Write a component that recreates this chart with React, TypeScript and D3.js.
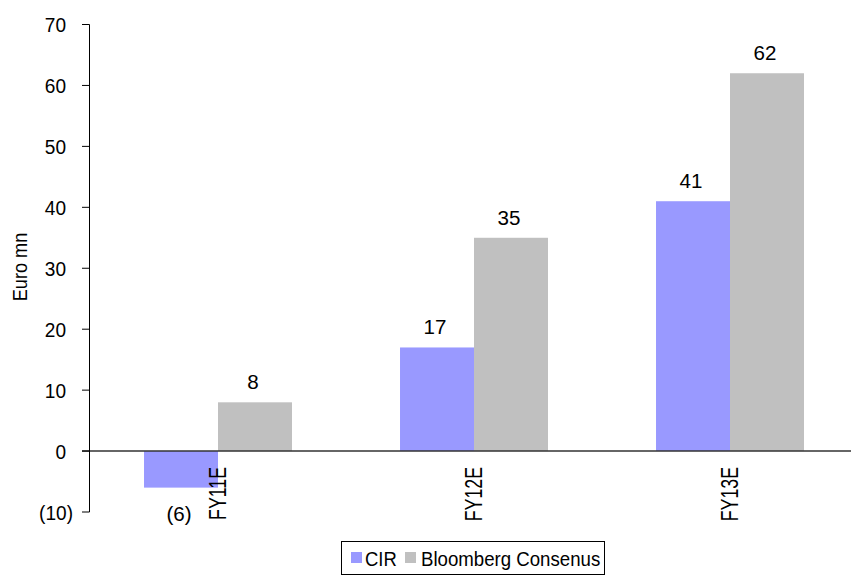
import React from 'react';
import * as d3 from 'd3';

// Net profit estimates (Euro mn)
const categories = ['FY11E', 'FY12E', 'FY13E'];
const seriesNames = ['CIR', 'Bloomberg Consenus'];
const cirValues = [-6, 17, 41];
const consensusValues = [8, 35, 62];
const yTickValues = [-10, 0, 10, 20, 30, 40, 50, 60, 70];
const seriesColors = ['#9999FF', '#C0C0C0'];

const W = 851;
const H = 575;
const FONT = 'Liberation Sans, Arial, sans-serif';

const fmt = (v: number) => (v < 0 ? `(${Math.abs(v)})` : `${v}`);

type TProps = {
  x: number;
  y: number;
  size: number;
  sx?: number;
  rot?: number;
  anchor?: 'start' | 'middle' | 'end';
  children: React.ReactNode;
};

// Text drawn through a horizontal squeeze to mimic a narrow face
const T = ({ x, y, size, sx = 0.9, rot = 0, anchor = 'start', children }: TProps) => (
  <g transform={`translate(${x},${y}) rotate(${rot}) scale(${sx},1)`}>
    <text x={0} y={0} fontSize={size} fontFamily={FONT} textAnchor={anchor} fill="#000">
      {children}
    </text>
  </g>
);

export default function App() {
  const left = 89.5;
  const right = 858;
  const y = d3.scaleLinear().domain([-10, 70]).range([512, 24.5]);
  const x0 = d3.scaleBand<string>().domain(categories).range([90, right]).padding(0);
  const bw = x0.bandwidth();
  const x1 = d3.scaleBand<string>().domain(seriesNames).range([bw * 0.211, bw * 0.789]).padding(0);

  const series = [cirValues, consensusValues];

  return (
    <svg
      width={W}
      height={H}
      style={{ position: 'absolute', left: 0, top: 0, background: '#fff' }}
    >
      <rect x={0} y={0} width={W} height={H} fill="#fff" />

      {/* bars */}
      {categories.map((c, i) =>
        seriesNames.map((s, j) => {
          const v = series[j][i];
          const bx = (x0(c) as number) + (x1(s) as number);
          const top = Math.min(y(v), y(0));
          const h = Math.abs(y(v) - y(0));
          return (
            <rect
              key={`${c}-${s}`}
              x={bx}
              y={top}
              width={x1.bandwidth()}
              height={h}
              fill={seriesColors[j]}
            />
          );
        })
      )}

      {/* value labels */}
      {categories.map((c, i) =>
        seriesNames.map((s, j) => {
          const v = series[j][i];
          const cx = (x0(c) as number) + (x1(s) as number) + x1.bandwidth() / 2 - 2;
          const ly = v >= 0 ? y(v) - 13 : y(v) + 33;
          return (
            <T key={`l-${c}-${s}`} x={cx} y={ly} size={21} sx={0.98} anchor="middle">
              {fmt(v)}
            </T>
          );
        })
      )}

      {/* zero line */}
      <line x1={82} x2={right} y1={y(0)} y2={y(0)} stroke="#333" strokeWidth={1.6} />

      {/* y axis */}
      <line x1={left} x2={left} y1={y(70)} y2={y(-10)} stroke="#000" strokeWidth={1} />
      {yTickValues.map((t) => (
        <g key={t}>
          <line x1={82} x2={left} y1={y(t)} y2={y(t)} stroke="#000" strokeWidth={1} />
          <T x={t < 0 ? 73 : 66} y={y(t) + 7.5} size={20.5} sx={0.93} anchor="end">
            {fmt(t)}
          </T>
        </g>
      ))}

      {/* category labels */}
      {categories.map((c) => (
        <T
          key={c}
          x={(x0(c) as number) + bw / 2 + 8}
          y={467}
          size={24}
          sx={0.74}
          rot={-90}
          anchor="end"
        >
          {c}
        </T>
      ))}

      {/* y axis title */}
      <T x={27} y={267} size={19.5} sx={0.93} rot={-90} anchor="middle">
        Euro mn
      </T>

      {/* legend */}
      <rect x={341.5} y={541.5} width={263} height={33} fill="#fff" stroke="#000" strokeWidth={1} />
      <rect x={351} y={552} width={11} height={11} fill={seriesColors[0]} />
      <T x={365} y={566} size={20.5} sx={0.9}>
        {seriesNames[0]}
      </T>
      <rect x={405} y={552} width={11} height={11} fill={seriesColors[1]} />
      <T x={421} y={566} size={20.5} sx={0.91}>
        {seriesNames[1]}
      </T>
    </svg>
  );
}
